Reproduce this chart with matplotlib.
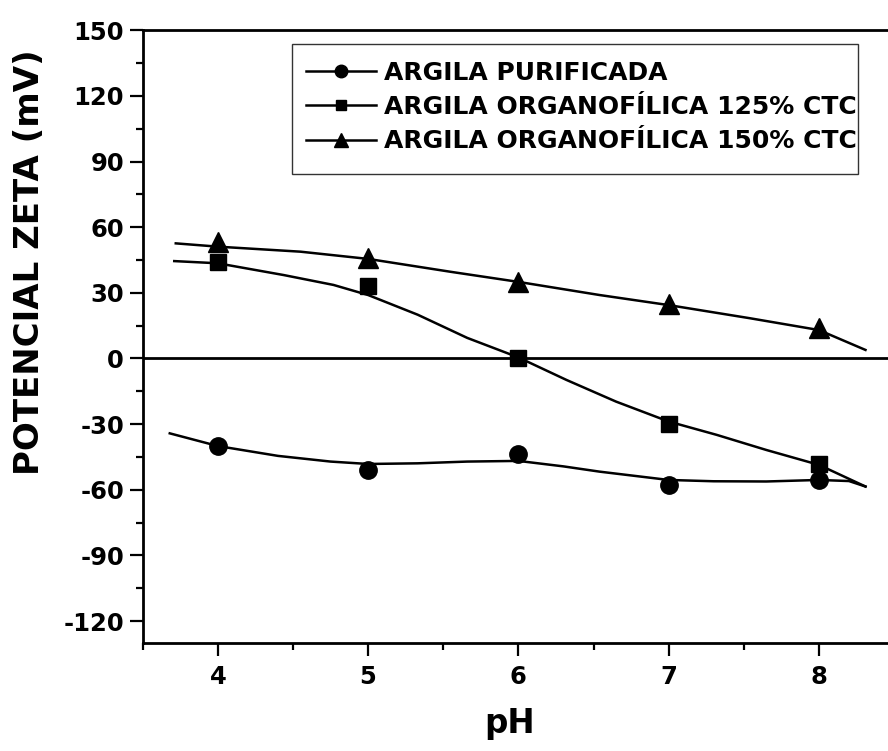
import matplotlib
matplotlib.use('Agg')
import matplotlib.pyplot as plt
from matplotlib.lines import Line2D
from matplotlib.patches import Rectangle
from matplotlib.ticker import MultipleLocator

plt.rcParams['font.family'] = ['DejaVu Sans']
plt.rcParams['font.weight'] = 'bold'
plt.rcParams['axes.unicode_minus'] = False

# measured zeta potential
ph = [4, 5, 6, 7, 8]
purificada = [-40, -51, -43.5, -58, -55.5]
org125 = [44, 33, 0, -30, -48]
org150 = [53, 46, 35, 25, 14]

# smoothed fit curves
fit_ph_pur = [3.68, 4.0, 4.4, 4.75, 5.0, 5.33, 5.66, 6.0, 6.3, 6.54, 7.0, 7.3, 7.65, 8.0, 8.2, 8.31]
fit_pur = [-34.2, -40, -44.5, -47.1, -48.2, -47.9, -47.1, -46.8, -49.3, -51.7, -55.5, -56.1, -56.2, -55.5, -56.0, -58.5]
fit_ph_125 = [3.71, 4.0, 4.44, 4.77, 5.0, 5.33, 5.66, 6.0, 6.32, 6.65, 7.0, 7.32, 7.65, 8.0, 8.31]
fit_125 = [44.5, 43.5, 38.1, 33.6, 29, 20, 9.4, 0.5, -9.8, -19.7, -28.8, -34.9, -41.8, -48.6, -58.5]
fit_ph_150 = [3.72, 4.0, 4.55, 5.0, 5.55, 6.0, 6.54, 7.0, 7.54, 8.0, 8.31]
fit_150 = [52.6, 51.1, 48.8, 45.5, 39.6, 35, 29, 24.4, 18.4, 13, 3.9]

labels = ['ARGILA PURIFICADA', 'ARGILA ORGANOFÍLICA 125% CTC', 'ARGILA ORGANOFÍLICA 150% CTC']

fig = plt.figure(figsize=(8.88, 7.51), dpi=100)
ax = fig.add_axes([0.1607, 0.1438, 0.8461, 0.816])

ax.axhline(0, color='black', lw=2.0, zorder=1)

lw = 1.8
ax.plot(fit_ph_pur, fit_pur, color='black', lw=lw, solid_joinstyle='round')
ax.plot(fit_ph_125, fit_125, color='black', lw=lw, solid_joinstyle='round')
ax.plot(fit_ph_150, fit_150, color='black', lw=lw, solid_joinstyle='round')

ax.plot(ph, purificada, 'o', color='black', ms=12.5, ls='none', zorder=3)
ax.plot(ph, org125, 's', color='black', ms=11.5, ls='none', zorder=3)
ax.plot(ph, org150, '^', color='black', ms=15, ls='none', zorder=3)

ax.set_xlim(3.5, 8.5)
ax.set_ylim(-130, 150)
ax.xaxis.set_major_locator(MultipleLocator(1))
ax.xaxis.set_minor_locator(MultipleLocator(0.5))
ax.yaxis.set_major_locator(MultipleLocator(30))
ax.yaxis.set_minor_locator(MultipleLocator(15))

for s in ax.spines.values():
    s.set_linewidth(2.0)
ax.spines['right'].set_visible(False)

ax.tick_params(which='major', direction='out', length=9.5, width=1.6, labelsize=17.5)
ax.tick_params(which='minor', direction='out', length=5, width=1.6)
ax.tick_params(axis='x', which='major', pad=6)
ax.tick_params(axis='y', which='major', pad=4)
ax.tick_params(top=False, right=False, which='both')
for lab in ax.get_xticklabels() + ax.get_yticklabels():
    lab.set_fontweight('bold')

fig.text(30 / 888, 1 - 262 / 751, 'POTENCIAL ZETA (mV)', rotation=90,
         ha='center', va='center', fontsize=24.5, fontweight='bold')
fig.text(510 / 888, 1 - 724 / 751, 'pH', ha='center', va='center',
         fontsize=23.5, fontweight='bold')

handles = [
    Line2D([], [], color='black', lw=lw, marker='o', ms=9),
    Line2D([], [], color='black', lw=lw, marker='s', ms=7.5),
    Line2D([], [], color='black', lw=lw, marker='^', ms=10.5),
]
leg = fig.legend(handles, labels, loc='center left',
                 bbox_to_anchor=(306 / 888, 1 - 107 / 751),
                 frameon=False, handlelength=2.8,
                 handletextpad=0.3, labelspacing=0.42, borderpad=0,
                 borderaxespad=0, prop={'weight': 'bold', 'size': 18})
fig.patches.append(Rectangle((292 / 888, 1 - 174 / 751), (858 - 292) / 888,
                             (174 - 44) / 751, transform=fig.transFigure,
                             fill=False, edgecolor='#333333', lw=1.0))

fig.savefig('out.png', dpi=100)
